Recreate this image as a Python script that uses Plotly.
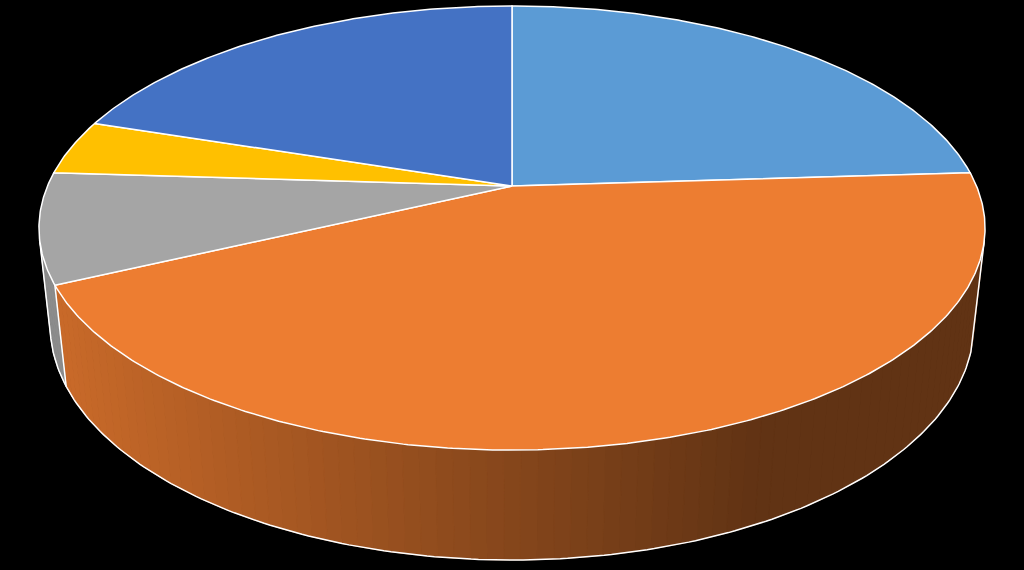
import numpy as np
import plotly.graph_objects as go

# Slice data (clockwise from 12 o'clock)
categories = ["1", "2", "3", "4", "5"]
shares = [24, 44, 8, 4, 20]
colors = ["#5B9BD5", "#ED7D31", "#A5A5A5", "#FFC000", "#4472C4"]

# Fake 3D camera for the tilted pie
CX, CY = 512, 186      # where the pie centre lands on the page
FOC = 2179
DIST = 4.691
TILT = np.radians(27.45)
THICK = 0.2374
SIN, COS = np.sin(TILT), np.cos(TILT)


def project(X, Z, Y=0.0):
    yc = Y * COS - Z * SIN
    depth = DIST - Y * SIN - Z * COS
    return CX + FOC * X / depth, CY - FOC * yc / depth


def rim(theta_deg, Y=0.0):
    th = np.radians(theta_deg)
    return project(np.sin(th), -np.cos(th), Y)


def shade(h, k):
    h = h.lstrip("#")
    r, g, b = [int(h[i:i + 2], 16) for i in (0, 2, 4)]
    return "rgb(%d,%d,%d)" % (r * k, g * k, b * k)


total = sum(shares)
edges = np.concatenate([[0], np.cumsum(shares) / total * 360])

fig = go.Figure()

# Side wall: only the part that faces the camera
vis_lo = np.degrees(np.arccos(-1 / (DIST * COS)))
vis_hi = 360 - vis_lo
cuts = np.linspace(vis_lo, vis_hi, 90)
cuts = np.unique(np.concatenate([cuts, [e for e in edges if vis_lo < e < vis_hi]]))

for a, b in zip(cuts[:-1], cuts[1:]):
    idx = np.searchsorted(edges, (a + b) / 2) - 1
    tx, ty = rim(np.array([a, b]))
    bx, by = rim(np.array([a, b]), -THICK)
    xs = [tx[0], tx[1], bx[1], bx[0], tx[0]]
    ys = [ty[0], ty[1], by[1], by[0], ty[0]]
    # darker towards the right, like the Excel gradient
    f = np.clip((np.mean(xs) - 60) / 700, 0, 1)
    col = shade(colors[idx], 0.85 - 0.44 * f)
    fig.add_trace(go.Scatter(x=xs, y=ys, mode="lines", fill="toself",
                             fillcolor=col, line=dict(color=col, width=1),
                             hoverinfo="skip", showlegend=False))

# Side outline
arc = np.linspace(vis_lo, vis_hi, 200)
bx, by = rim(arc, -THICK)
tx0, ty0 = rim(vis_lo)
tx1, ty1 = rim(vis_hi)
fig.add_trace(go.Scatter(x=[tx0] + list(bx) + [tx1], y=[ty0] + list(by) + [ty1],
                         mode="lines", line=dict(color="white", width=1.5),
                         hoverinfo="skip", showlegend=False))
for e in edges:
    if vis_lo < e < vis_hi:
        ux, uy = rim(e)
        dx, dy = rim(e, -THICK)
        fig.add_trace(go.Scatter(x=[ux, dx], y=[uy, dy], mode="lines",
                                 line=dict(color="white", width=1.5),
                                 hoverinfo="skip", showlegend=False))

# Top face slices
for name, val, col, a, b in zip(categories, shares, colors, edges[:-1], edges[1:]):
    ang = np.linspace(a, b, max(int(b - a) * 2, 4))
    ax, ay = rim(ang)
    x = [CX] + list(ax) + [CX]
    y = [CY] + list(ay) + [CY]
    fig.add_trace(go.Scatter(x=x, y=y, mode="lines", fill="toself", fillcolor=col,
                             line=dict(color="white", width=1.5), name=name,
                             text="%s: %d%%" % (name, val), hoveron="fills",
                             hoverinfo="text", showlegend=False))

fig.update_layout(
    width=1024, height=570,
    margin=dict(l=0, r=0, t=0, b=0),
    paper_bgcolor="black", plot_bgcolor="black",
    xaxis=dict(range=[0, 1024], visible=False, fixedrange=True),
    yaxis=dict(range=[570, 0], visible=False, fixedrange=True),
)

fig.write_html("out.html", config={"displayModeBar": False},
               post_script="document.body.style.margin='0';")
